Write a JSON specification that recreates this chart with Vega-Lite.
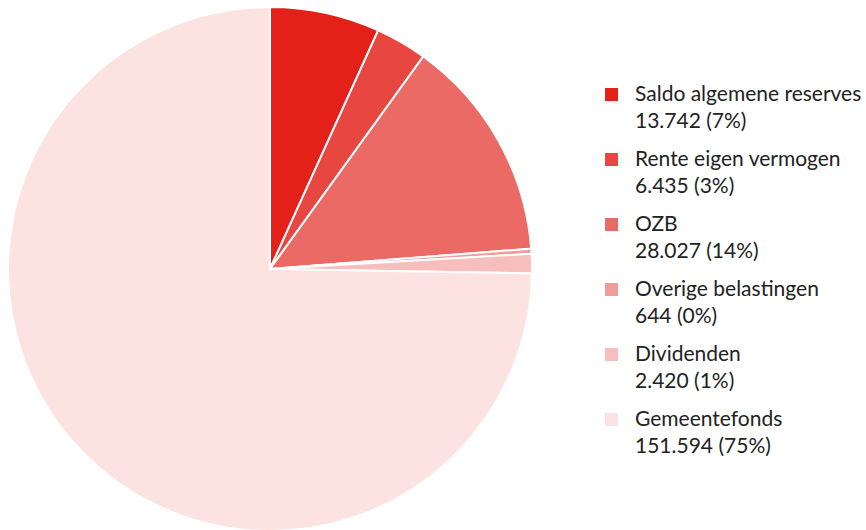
{
  "$schema": "https://vega.github.io/schema/vega-lite/v6.json",
  "width": 540,
  "height": 538,
  "padding": {"left": 0, "top": 0, "right": 326, "bottom": 0},
  "autosize": {"type": "none"},
  "background": "white",
  "data": {"values": [
    {"o": 1, "cat": "Saldo algemene reserves", "value": 13742, "label": "Saldo algemene reserves\n13.742 (7%)"},
    {"o": 2, "cat": "Rente eigen vermogen", "value": 6435, "label": "Rente eigen vermogen\n6.435 (3%)"},
    {"o": 3, "cat": "OZB", "value": 28027, "label": "OZB\n28.027 (14%)"},
    {"o": 4, "cat": "Overige belastingen", "value": 644, "label": "Overige belastingen\n644 (0%)"},
    {"o": 5, "cat": "Dividenden", "value": 2420, "label": "Dividenden\n2.420 (1%)"},
    {"o": 6, "cat": "Gemeentefonds", "value": 151594, "label": "Gemeentefonds\n151.594 (75%)"}
  ]},
  "mark": {"type": "arc", "outerRadius": 262, "stroke": "white", "strokeWidth": 2},
  "encoding": {
    "theta": {"field": "value", "type": "quantitative", "stack": true},
    "order": {"field": "o", "type": "quantitative"},
    "color": {
      "field": "label",
      "type": "nominal",
      "sort": {"field": "o"},
      "scale": {
        "domain": ["Saldo algemene reserves\n13.742 (7%)", "Rente eigen vermogen\n6.435 (3%)", "OZB\n28.027 (14%)", "Overige belastingen\n644 (0%)", "Dividenden\n2.420 (1%)", "Gemeentefonds\n151.594 (75%)"],
        "range": ["#E32119", "#E84641", "#EC6A65", "#F09C9A", "#F6BFBD", "#FCE3E1"]
      },
      "legend": {
        "title": null,
        "orient": "none",
        "legendX": 601,
        "legendY": 84,
        "symbolType": "square",
        "symbolSize": 169,
        "symbolStrokeWidth": 0,
        "labelFont": "Lato",
        "labelFontSize": 21,
        "labelColor": "#222222",
        "labelLimit": 300,
        "labelOffset": 13,
        "labelBaseline": "middle",
        "rowPadding": 16,
        "labelExpr": "split(datum.label, '\\n')",
        "encode": {"labels": {"update": {"lineHeight": {"value": 27}}}}
      }
    }
  },
  "config": {"view": {"stroke": null}, "style": {"guide-label": {"lineHeight": 27}}}
}
